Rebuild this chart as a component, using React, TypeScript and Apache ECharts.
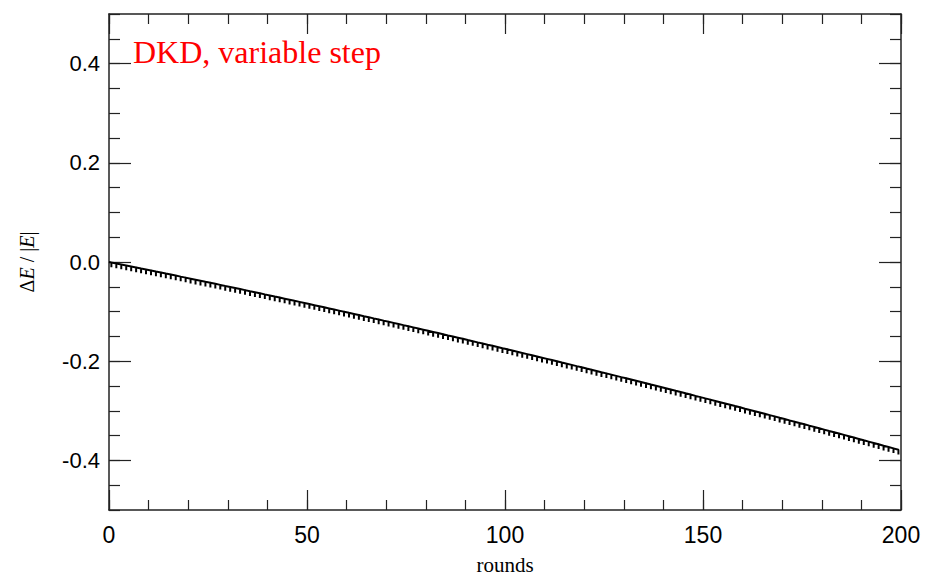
import React, { useEffect, useRef } from "react";
import * as echarts from "echarts";

// Energy-error samples at each pericentre spike: [round, ΔE/|E|]
const spikeRounds: number[] = [
  0.6, 1.85, 3.1, 4.35, 5.6, 6.85, 8.1, 9.35, 10.6, 11.85, 13.1, 14.35, 15.6, 16.85, 18.1, 19.35,
  20.6, 21.85, 23.1, 24.35, 25.6, 26.85, 28.1, 29.35, 30.6, 31.85, 33.1, 34.35, 35.6, 36.85, 38.1, 39.35,
  40.6, 41.85, 43.1, 44.35, 45.6, 46.85, 48.1, 49.35, 50.6, 51.85, 53.1, 54.35, 55.6, 56.85, 58.1, 59.35,
  60.6, 61.85, 63.1, 64.35, 65.6, 66.85, 68.1, 69.35, 70.6, 71.85, 73.1, 74.35, 75.6, 76.85, 78.1, 79.35,
  80.6, 81.85, 83.1, 84.35, 85.6, 86.85, 88.1, 89.35, 90.6, 91.85, 93.1, 94.35, 95.6, 96.85, 98.1, 99.35,
  100.6, 101.85, 103.1, 104.35, 105.6, 106.85, 108.1, 109.35, 110.6, 111.85, 113.1, 114.35, 115.6, 116.85, 118.1, 119.35,
  120.6, 121.85, 123.1, 124.35, 125.6, 126.85, 128.1, 129.35, 130.6, 131.85, 133.1, 134.35, 135.6, 136.85, 138.1, 139.35,
  140.6, 141.85, 143.1, 144.35, 145.6, 146.85, 148.1, 149.35, 150.6, 151.85, 153.1, 154.35, 155.6, 156.85, 158.1, 159.35,
  160.6, 161.85, 163.1, 164.35, 165.6, 166.85, 168.1, 169.35, 170.6, 171.85, 173.1, 174.35, 175.6, 176.85, 178.1, 179.35,
  180.6, 181.85, 183.1, 184.35, 185.6, 186.85, 188.1, 189.35, 190.6, 191.85, 193.1, 194.35, 195.6, 196.85, 198.1, 199.35,
];

const spikeEnergy: number[] = [
  -0.001, -0.003, -0.005, -0.007, -0.009, -0.011, -0.0131, -0.0151, -0.0171, -0.0192, -0.0212, -0.0233, -0.0253, -0.0274, -0.0295, -0.0315,
  -0.0336, -0.0357, -0.0378, -0.0399, -0.0419, -0.044, -0.0461, -0.0483, -0.0504, -0.0525, -0.0546, -0.0567, -0.0589, -0.061, -0.0631, -0.0653,
  -0.0674, -0.0696, -0.0717, -0.0739, -0.0761, -0.0783, -0.0804, -0.0826, -0.0848, -0.087, -0.0892, -0.0914, -0.0936, -0.0958, -0.098, -0.1002,
  -0.1025, -0.1047, -0.1069, -0.1092, -0.1114, -0.1137, -0.1159, -0.1182, -0.1204, -0.1227, -0.125, -0.1273, -0.1295, -0.1318, -0.1341, -0.1364,
  -0.1387, -0.141, -0.1433, -0.1456, -0.148, -0.1503, -0.1526, -0.1549, -0.1573, -0.1596, -0.162, -0.1643, -0.1667, -0.169, -0.1714, -0.1738,
  -0.1761, -0.1785, -0.1809, -0.1833, -0.1857, -0.1881, -0.1905, -0.1929, -0.1953, -0.1977, -0.2001, -0.2026, -0.205, -0.2074, -0.2099, -0.2123,
  -0.2148, -0.2172, -0.2197, -0.2222, -0.2246, -0.2271, -0.2296, -0.2321, -0.2345, -0.237, -0.2395, -0.242, -0.2445, -0.2471, -0.2496, -0.2521,
  -0.2546, -0.2571, -0.2597, -0.2622, -0.2648, -0.2673, -0.2699, -0.2724, -0.275, -0.2775, -0.2801, -0.2827, -0.2853, -0.2879, -0.2905, -0.293,
  -0.2957, -0.2983, -0.3009, -0.3035, -0.3061, -0.3087, -0.3113, -0.314, -0.3166, -0.3193, -0.3219, -0.3246, -0.3272, -0.3299, -0.3325, -0.3352,
  -0.3379, -0.3406, -0.3432, -0.3459, -0.3486, -0.3513, -0.354, -0.3567, -0.3595, -0.3622, -0.3649, -0.3676, -0.3704, -0.3731, -0.3758, -0.3786,
];

// depth of the short energy dip at each pericentre passage
const spikeDepth = 0.0095;

const startPoint: [number, number] = [0, 0];

const xMajorTicks = [0, 50, 100, 150, 200];
const yMajorTicks = [-0.4, -0.2, 0, 0.2, 0.4];

const title = "DKD, variable step";
const xName = "rounds";

export default function App() {
  const ref = useRef<HTMLDivElement>(null);

  useEffect(() => {
    if (!ref.current) return;
    const chart = echarts.init(ref.current, undefined, { renderer: "svg" });

    const lineData: [number, number][] = [startPoint];
    spikeRounds.forEach((t, i) => {
      const e = spikeEnergy[i];
      lineData.push([t, e]);
      lineData.push([t, e - spikeDepth]);
      lineData.push([t, e]);
    });

    const axisLine = { show: true, onZero: false, lineStyle: { color: "#222", width: 1.5 } };
    const tickStyle = { color: "#222", width: 1.2 };

    const baseX = {
      type: "value" as const,
      min: 0,
      max: 200,
      splitLine: { show: false },
    };
    const baseY = {
      type: "value" as const,
      min: -0.5,
      max: 0.5,
      splitLine: { show: false },
    };

    chart.setOption({
      animation: false,
      backgroundColor: "#ffffff",
      grid: { left: 109, right: 24, top: 14, bottom: 65, containLabel: false },
      xAxis: [
        {
          ...baseX,
          position: "bottom",
          interval: 10,
          axisLine,
          axisTick: { show: true, inside: true, length: 10, lineStyle: tickStyle },
          axisLabel: {
            show: true,
            customValues: xMajorTicks,
            formatter: (v: number) => String(v),
            margin: 13,
            color: "#000",
            fontFamily: "Liberation Sans",
            fontSize: 23,
          },
          name: xName,
          nameLocation: "middle",
          nameGap: 44,
          nameTextStyle: { fontFamily: "Liberation Serif", fontSize: 21, color: "#000" },
        },
        {
          ...baseX,
          position: "bottom",
          interval: 50,
          axisLine: { show: false, onZero: false },
          axisTick: { show: true, inside: true, length: 20, lineStyle: tickStyle },
          axisLabel: { show: false },
        },
        {
          ...baseX,
          position: "top",
          interval: 10,
          axisLine,
          axisTick: { show: true, inside: true, length: 10, lineStyle: tickStyle },
          axisLabel: { show: false },
        },
        {
          ...baseX,
          position: "top",
          interval: 50,
          axisLine: { show: false, onZero: false },
          axisTick: { show: true, inside: true, length: 20, lineStyle: tickStyle },
          axisLabel: { show: false },
        },
      ],
      yAxis: [
        {
          ...baseY,
          position: "left",
          interval: 0.05,
          axisLine,
          axisTick: { show: true, inside: true, length: 11, lineStyle: tickStyle },
          axisLabel: { show: false },
          name: "{n|Δ}{i|E}{n| / |}{i|E}{n||}",
          nameLocation: "middle",
          nameRotate: 90,
          nameGap: 72,
          nameTextStyle: {
            rich: {
              n: { fontFamily: "Liberation Serif", fontSize: 20, color: "#000" },
              i: { fontFamily: "Liberation Serif", fontSize: 20, fontStyle: "italic", color: "#000" },
            },
          },
        },
        {
          ...baseY,
          position: "left",
          axisLine: { show: false, onZero: false },
          axisTick: { show: true, inside: true, length: 22, customValues: yMajorTicks, lineStyle: tickStyle },
          axisLabel: {
            show: true,
            customValues: yMajorTicks,
            formatter: (v: number) => v.toFixed(1),
            margin: 9,
            color: "#000",
            fontFamily: "Liberation Sans",
            fontSize: 22,
          },
        },
        {
          ...baseY,
          position: "right",
          interval: 0.05,
          axisLine,
          axisTick: { show: true, inside: true, length: 11, lineStyle: tickStyle },
          axisLabel: { show: false },
        },
        {
          ...baseY,
          position: "right",
          axisLine: { show: false, onZero: false },
          axisTick: { show: true, inside: true, length: 22, customValues: yMajorTicks, lineStyle: tickStyle },
          axisLabel: { show: false },
        },
      ],
      graphic: [
        {
          type: "text",
          left: 133,
          top: 36,
          style: {
            text: title,
            fill: "#ff0000",
            fontFamily: "Liberation Serif",
            fontSize: 32,
          },
        },
      ],
      series: [
        {
          type: "line",
          xAxisIndex: 0,
          yAxisIndex: 0,
          data: lineData,
          showSymbol: false,
          symbol: "none",
          lineStyle: { color: "#000", width: 2 },
        },
      ],
    });

    return () => chart.dispose();
  }, []);

  return (
    <div
      ref={ref}
      style={{ position: "absolute", left: 0, top: 0, width: 925, height: 580 }}
    />
  );
}
